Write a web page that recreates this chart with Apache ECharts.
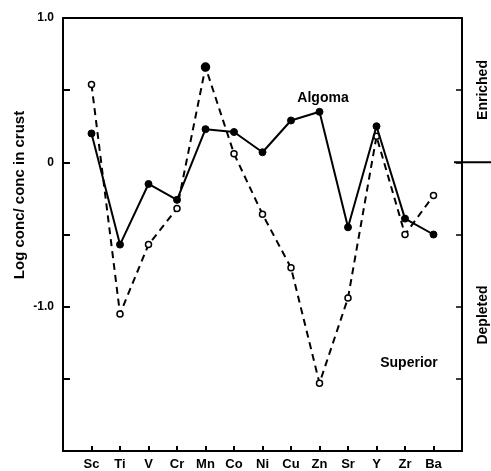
<!DOCTYPE html>
<html>
<head>
<meta charset="utf-8">
<script src="https://cdn.jsdelivr.net/npm/echarts@6/dist/echarts.min.js"></script>
<style>
html,body{margin:0;padding:0;background:#fff;}
#chart{width:491px;height:471px;}
</style>
</head>
<body>
<div id="chart"></div>
<script>
var elements = ['Sc','Ti','V','Cr','Mn','Co','Ni','Cu','Zn','Sr','Y','Zr','Ba'];
var algoma   = [0.20,-0.57,-0.15,-0.26,0.23,0.21,0.07,0.29,0.35,-0.45,0.25,-0.39,-0.50];
var superior = [0.54,-1.05,-0.57,-0.32,0.66,0.06,-0.36,-0.73,-1.53,-0.94,0.18,-0.50,-0.23];
var yTickLabels = {'1':'1.0','0':'0','-1':'-1.0'};

var FONT = '"Liberation Sans", Arial, sans-serif';
var chart = echarts.init(document.getElementById('chart'), null, {renderer:'canvas'});

var algomaData = algoma.map(function(v,i){return [i,v];});
var superiorData = superior.map(function(v,i){
  if (i === 4) return {value:[i,v], symbolSize:8, itemStyle:{color:'#000'}};
  return [i,v];
});

var option = {
  animation:false,
  backgroundColor:'#fff',
  grid:[
    {left:63,right:29,top:18,bottom:19,containLabel:false},
    {left:63,right:29,top:452,height:1,containLabel:false}
  ],
  xAxis:[{
    gridIndex:0, type:'value', min:-1, max:13, interval:1, position:'bottom',
    axisLine:{show:true,onZero:false,lineStyle:{color:'#000',width:2}},
    axisTick:{show:false},
    axisLabel:{show:true,margin:7,color:'#000',fontFamily:FONT,fontWeight:'bold',fontSize:13,
      formatter:function(v){return (v>=0 && v<elements.length)?elements[v]:'';}},
    splitLine:{show:false}
  },{
    gridIndex:0, type:'value', min:-1, max:13, interval:1, position:'top',
    axisLine:{show:true,onZero:false,lineStyle:{color:'#000',width:2}},
    axisTick:{show:false},axisLabel:{show:false},splitLine:{show:false}
  },{
    gridIndex:1, type:'value', min:-1, max:13, interval:1, position:'top',
    axisLine:{show:false,onZero:false},
    axisTick:{show:true,inside:false,length:6,lineStyle:{color:'#000',width:2}},
    axisLabel:{show:false},splitLine:{show:false}
  }],
  yAxis:[{
    gridIndex:0, type:'value', min:-2, max:1, interval:0.5, position:'left',
    axisLine:{show:true,onZero:false,lineStyle:{color:'#000',width:2}},
    axisTick:{show:true,inside:true,length:7,lineStyle:{color:'#000',width:2}},
    axisLabel:{show:true,margin:9,color:'#000',fontFamily:FONT,fontWeight:'bold',fontSize:12,
      formatter:function(v){var k=String(Math.round(v*10)/10);return yTickLabels[k]!==undefined?yTickLabels[k]:'';}},
    splitLine:{show:false}
  },{
    gridIndex:0, type:'value', min:-2, max:1, interval:0.5, position:'right',
    axisLine:{show:true,onZero:false,lineStyle:{color:'#000',width:2}},
    axisTick:{show:true,inside:true,length:6,lineStyle:{color:'#000',width:1.5}},
    axisLabel:{show:false},splitLine:{show:false}
  },{
    gridIndex:1, type:'value', min:0, max:1, show:false
  }],
  series:[{
    name:'Algoma', type:'line', xAxisIndex:0, yAxisIndex:0, data:algomaData,
    symbol:'circle', symbolSize:7,
    lineStyle:{color:'#000',width:2,type:'solid'},
    itemStyle:{color:'#000',borderColor:'#000',borderWidth:1},
    z:3
  },{
    name:'Superior', type:'line', xAxisIndex:0, yAxisIndex:0, data:superiorData,
    symbol:'circle', symbolSize:6,
    lineStyle:{color:'#000',width:2,type:[7,5]},
    itemStyle:{color:'#fff',borderColor:'#000',borderWidth:1.5},
    z:2
  }]
};
chart.setOption(option);

var zeroY = chart.convertToPixel({yAxisIndex:0}, 0);
var rightX = 491 - 29;
chart.setOption({
  graphic:[
    {type:'line', shape:{x1:rightX-8,y1:zeroY,x2:491,y2:zeroY}, style:{stroke:'#000',lineWidth:2}},
    {type:'text', x:20, y:195, rotation:Math.PI/2,
      style:{text:'Log conc/ conc in crust', fill:'#000', font:'bold 15px '+FONT, align:'center', verticalAlign:'middle'}},
    {type:'text', x:483, y:90, rotation:Math.PI/2,
      style:{text:'Enriched', fill:'#000', font:'bold 14px '+FONT, align:'center', verticalAlign:'middle'}},
    {type:'text', x:483, y:315, rotation:Math.PI/2,
      style:{text:'Depleted', fill:'#000', font:'bold 14px '+FONT, align:'center', verticalAlign:'middle'}},
    {type:'text', x:323, y:98,
      style:{text:'Algoma', fill:'#000', font:'bold 14px '+FONT, align:'center', verticalAlign:'middle'}},
    {type:'text', x:409, y:363,
      style:{text:'Superior', fill:'#000', font:'bold 14px '+FONT, align:'center', verticalAlign:'middle'}}
  ]
});
</script>
</body>
</html>
